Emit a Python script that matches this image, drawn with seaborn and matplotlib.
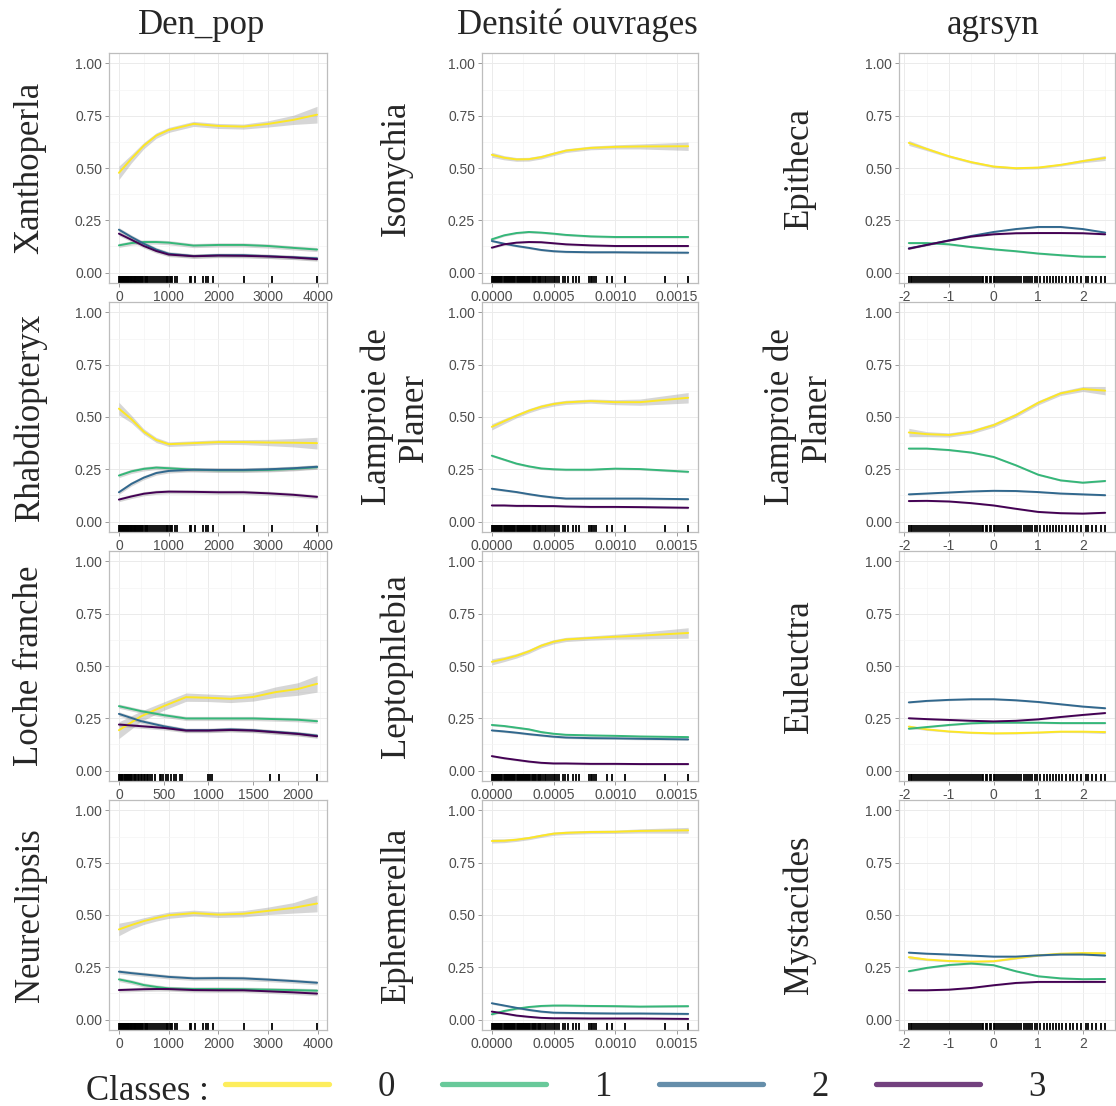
import numpy as np
import pandas as pd
import matplotlib
matplotlib.use("Agg")
import matplotlib.pyplot as plt
import matplotlib.ticker as mticker
from matplotlib.lines import Line2D
import seaborn as sns

# ---------------- data ----------------
classes = ["0", "1", "2", "3"]
palette = ["#FDE725", "#35B779", "#31688E", "#440154"]

col_titles = ["Den_pop", "Densité ouvrages", "agrsyn"]

den_pop_x = [0, 250, 500, 750, 1000, 1500, 2000, 2500, 3000, 3500, 3980]
loche_x = [0, 250, 500, 750, 1000, 1250, 1500, 1750, 2000, 2215]
ouvr_x = [0, 0.0001, 0.0002, 0.0003, 0.0004, 0.0005, 0.0006, 0.0008, 0.0010, 0.0012, 0.00159]
agr_x = [-1.9, -1.5, -1.0, -0.5, 0.0, 0.5, 1.0, 1.5, 2.0, 2.5]

# Den_pop column
xanthoperla = [[0.477, 0.544, 0.607, 0.655, 0.682, 0.711, 0.701, 0.698, 0.711, 0.730, 0.755],
               [0.130, 0.141, 0.146, 0.146, 0.143, 0.129, 0.132, 0.132, 0.127, 0.118, 0.110],
               [0.205, 0.170, 0.138, 0.110, 0.090, 0.079, 0.083, 0.083, 0.078, 0.073, 0.068],
               [0.186, 0.157, 0.127, 0.103, 0.086, 0.078, 0.081, 0.080, 0.077, 0.072, 0.064]]
xanthoperla_se = [0.032, 0.020, 0.015, 0.013, 0.012, 0.012, 0.012, 0.012, 0.015, 0.022, 0.040]

rhabdiopteryx = [[0.540, 0.490, 0.430, 0.390, 0.370, 0.375, 0.380, 0.380, 0.378, 0.377, 0.375],
                 [0.220, 0.240, 0.252, 0.258, 0.255, 0.248, 0.245, 0.245, 0.247, 0.252, 0.260],
                 [0.140, 0.180, 0.210, 0.232, 0.242, 0.248, 0.247, 0.247, 0.250, 0.255, 0.262],
                 [0.105, 0.120, 0.133, 0.140, 0.143, 0.142, 0.140, 0.140, 0.135, 0.128, 0.118]]
rhabdiopteryx_se = [0.030, 0.018, 0.013, 0.012, 0.011, 0.011, 0.011, 0.012, 0.015, 0.020, 0.028]

loche = [[0.193, 0.260, 0.308, 0.351, 0.348, 0.343, 0.352, 0.375, 0.390, 0.415],
         [0.308, 0.284, 0.265, 0.249, 0.249, 0.249, 0.249, 0.246, 0.243, 0.236],
         [0.271, 0.236, 0.212, 0.193, 0.193, 0.197, 0.193, 0.185, 0.177, 0.167],
         [0.220, 0.212, 0.204, 0.191, 0.191, 0.194, 0.191, 0.183, 0.175, 0.164]]
loche_se = [0.040, 0.025, 0.020, 0.020, 0.018, 0.018, 0.020, 0.025, 0.030, 0.040]

neureclipsis = [[0.431, 0.452, 0.471, 0.486, 0.499, 0.509, 0.502, 0.506, 0.520, 0.534, 0.555],
                [0.192, 0.180, 0.165, 0.156, 0.149, 0.146, 0.146, 0.145, 0.143, 0.141, 0.138],
                [0.229, 0.222, 0.216, 0.210, 0.204, 0.197, 0.198, 0.197, 0.191, 0.184, 0.176],
                [0.141, 0.143, 0.145, 0.146, 0.146, 0.141, 0.140, 0.140, 0.135, 0.130, 0.124]]
neureclipsis_se = [0.030, 0.020, 0.016, 0.015, 0.015, 0.014, 0.014, 0.015, 0.018, 0.025, 0.040]

# Densité ouvrages column
isonychia = [[0.563, 0.549, 0.541, 0.542, 0.552, 0.568, 0.583, 0.596, 0.601, 0.603, 0.604],
             [0.159, 0.178, 0.189, 0.194, 0.191, 0.186, 0.180, 0.173, 0.170, 0.170, 0.170],
             [0.151, 0.138, 0.127, 0.118, 0.108, 0.102, 0.099, 0.097, 0.097, 0.096, 0.095],
             [0.119, 0.135, 0.143, 0.146, 0.145, 0.140, 0.135, 0.130, 0.127, 0.127, 0.127]]
isonychia_se = [0.012, 0.010, 0.009, 0.009, 0.009, 0.009, 0.009, 0.009, 0.010, 0.012, 0.020]

lamproie_ouvr = [[0.453, 0.480, 0.506, 0.530, 0.549, 0.562, 0.570, 0.576, 0.571, 0.571, 0.592],
                 [0.315, 0.296, 0.277, 0.264, 0.254, 0.250, 0.248, 0.248, 0.253, 0.251, 0.238],
                 [0.157, 0.149, 0.141, 0.131, 0.122, 0.115, 0.110, 0.110, 0.110, 0.110, 0.107],
                 [0.077, 0.077, 0.075, 0.075, 0.074, 0.074, 0.072, 0.070, 0.070, 0.069, 0.066]]
lamproie_ouvr_se = [0.015, 0.012, 0.010, 0.010, 0.010, 0.010, 0.010, 0.010, 0.012, 0.015, 0.025]

leptophlebia = [[0.520, 0.533, 0.549, 0.570, 0.597, 0.616, 0.627, 0.634, 0.640, 0.645, 0.658],
                [0.218, 0.213, 0.205, 0.197, 0.184, 0.176, 0.171, 0.168, 0.166, 0.163, 0.160],
                [0.192, 0.187, 0.181, 0.174, 0.168, 0.162, 0.158, 0.155, 0.154, 0.152, 0.149],
                [0.069, 0.059, 0.051, 0.043, 0.037, 0.034, 0.034, 0.032, 0.032, 0.031, 0.031]]
leptophlebia_se = [0.015, 0.012, 0.011, 0.010, 0.010, 0.010, 0.010, 0.010, 0.012, 0.016, 0.025]

ephemerella = [[0.854, 0.855, 0.860, 0.868, 0.879, 0.889, 0.893, 0.897, 0.898, 0.902, 0.905],
               [0.025, 0.041, 0.052, 0.060, 0.065, 0.067, 0.067, 0.065, 0.064, 0.062, 0.064],
               [0.078, 0.067, 0.056, 0.046, 0.038, 0.033, 0.032, 0.030, 0.029, 0.029, 0.027],
               [0.038, 0.029, 0.019, 0.013, 0.008, 0.006, 0.006, 0.005, 0.005, 0.005, 0.003]]
ephemerella_se = [0.010, 0.009, 0.008, 0.008, 0.008, 0.008, 0.008, 0.008, 0.008, 0.010, 0.014]

# agrsyn column
epitheca = [[0.620, 0.591, 0.556, 0.528, 0.507, 0.499, 0.502, 0.515, 0.533, 0.548],
            [0.141, 0.141, 0.135, 0.122, 0.111, 0.102, 0.091, 0.083, 0.076, 0.075],
            [0.116, 0.132, 0.154, 0.175, 0.194, 0.208, 0.218, 0.218, 0.208, 0.191],
            [0.114, 0.132, 0.153, 0.172, 0.183, 0.188, 0.189, 0.189, 0.188, 0.183]]
epitheca_se = [0.012, 0.008, 0.006, 0.006, 0.006, 0.006, 0.006, 0.006, 0.008, 0.012]

lamproie_agr = [[0.426, 0.418, 0.414, 0.429, 0.461, 0.509, 0.568, 0.613, 0.634, 0.626],
                [0.349, 0.349, 0.342, 0.330, 0.309, 0.269, 0.224, 0.197, 0.186, 0.194],
                [0.130, 0.134, 0.139, 0.144, 0.147, 0.146, 0.141, 0.134, 0.130, 0.126],
                [0.098, 0.099, 0.096, 0.088, 0.077, 0.061, 0.046, 0.040, 0.038, 0.042]]
lamproie_agr_se = [0.020, 0.012, 0.010, 0.010, 0.010, 0.010, 0.010, 0.010, 0.012, 0.020]

euleuctra = [[0.210, 0.197, 0.187, 0.181, 0.178, 0.179, 0.182, 0.186, 0.186, 0.184],
             [0.200, 0.208, 0.218, 0.226, 0.229, 0.229, 0.229, 0.227, 0.227, 0.227],
             [0.326, 0.333, 0.338, 0.341, 0.341, 0.336, 0.328, 0.317, 0.306, 0.298],
             [0.250, 0.246, 0.242, 0.238, 0.235, 0.238, 0.245, 0.256, 0.266, 0.275]]
euleuctra_se = [0.007, 0.005, 0.004, 0.004, 0.004, 0.004, 0.004, 0.004, 0.005, 0.007]

mystacides = [[0.298, 0.287, 0.280, 0.277, 0.279, 0.293, 0.307, 0.315, 0.318, 0.317],
              [0.231, 0.247, 0.261, 0.268, 0.260, 0.231, 0.207, 0.197, 0.193, 0.194],
              [0.320, 0.315, 0.311, 0.306, 0.301, 0.301, 0.307, 0.311, 0.311, 0.306],
              [0.140, 0.140, 0.143, 0.151, 0.164, 0.175, 0.180, 0.180, 0.180, 0.180]]
mystacides_se = [0.008, 0.005, 0.004, 0.004, 0.004, 0.004, 0.004, 0.004, 0.005, 0.008]

# half width of the band for classes 1-3, per column
other_se = [0.010, 0.005, 0.004]

# observed covariate values (rug)
den_pop_rug = [0, 12, 25, 35, 48, 60, 72, 85, 97, 110, 122, 135, 150, 163, 177, 190, 205, 220,
               235, 250, 265, 282, 298, 315, 332, 350, 368, 386, 405, 425, 445, 468, 490, 515,
               540, 560, 584, 631, 664, 705, 752, 792, 819, 859, 899, 940, 966, 993, 1020, 1040,
               1074, 1121, 1168, 1423, 1456, 1537, 1691, 1745, 1792, 1893, 2503, 3081, 3980]
loche_rug = [0, 10, 20, 30, 40, 52, 63, 75, 87, 100, 112, 125, 138, 150, 165, 180, 195, 210,
             226, 242, 258, 275, 292, 310, 325, 343, 373, 399, 455, 466, 493, 522, 548, 578,
             612, 634, 687, 701, 996, 1022, 1045, 1694, 1784, 2215]
ouvr_rug_e4 = [0, 0.08, 0.17, 0.25, 0.34, 0.42, 0.5, 0.6, 0.68, 0.77, 0.85, 0.95, 1.03, 1.12,
               1.2, 1.3, 1.38, 1.47, 1.55, 1.65, 1.73, 1.82, 1.9, 2.0, 2.08, 2.17, 2.25, 2.35,
               2.43, 2.52, 2.6, 2.7, 2.78, 2.87, 2.95, 3.05, 3.13, 3.22, 3.3, 3.4, 3.48, 3.6,
               3.7, 3.8, 3.92, 4.0, 4.15, 4.3, 4.4, 4.55, 4.7, 4.85, 5.0, 5.15, 5.3, 5.45, 5.73,
               5.91, 6.13, 6.61, 6.8, 7.07, 7.88, 8.01, 8.15, 8.28, 8.41, 9.35, 9.76, 10.78,
               14.06, 15.9]
agr_rug = [-1.90, -1.86, -1.82, -1.78, -1.73, -1.69, -1.64, -1.60, -1.55, -1.51, -1.47, -1.42,
           -1.38, -1.33, -1.29, -1.24, -1.20, -1.16, -1.11, -1.07, -1.02, -0.98, -0.93, -0.89,
           -0.85, -0.80, -0.76, -0.71, -0.67, -0.62, -0.58, -0.54, -0.49, -0.45, -0.40, -0.36,
           -0.31, -0.27, -0.23, -0.18, -0.14, -0.09, -0.05, 0.00, 0.04, 0.08, 0.13, 0.17, 0.22,
           0.26, 0.31, 0.35, 0.40, 0.44, 0.49, 0.53, 0.58, 0.62, 0.67, 0.72, 0.77, 0.82, 0.87,
           0.93, 0.98, 1.05, 1.12, 1.20, 1.27, 1.33, 1.39, 1.46, 1.54, 1.63, 1.72, 1.78, 1.87,
           1.95, 2.06, 2.11, 2.21, 2.30, 2.40, 2.50]
ouvr_rug = [v * 1e-4 for v in ouvr_rug_e4]

# (row, col, label, x, curves, band of class 0, rug)
panels = [
    (0, 0, "Xanthoperla", den_pop_x, xanthoperla, xanthoperla_se, den_pop_rug),
    (1, 0, "Rhabdiopteryx", den_pop_x, rhabdiopteryx, rhabdiopteryx_se, den_pop_rug),
    (2, 0, "Loche franche", loche_x, loche, loche_se, loche_rug),
    (3, 0, "Neureclipsis", den_pop_x, neureclipsis, neureclipsis_se, den_pop_rug),
    (0, 1, "Isonychia", ouvr_x, isonychia, isonychia_se, ouvr_rug),
    (1, 1, "Lamproie de\nPlaner", ouvr_x, lamproie_ouvr, lamproie_ouvr_se, ouvr_rug),
    (2, 1, "Leptophlebia", ouvr_x, leptophlebia, leptophlebia_se, ouvr_rug),
    (3, 1, "Ephemerella", ouvr_x, ephemerella, ephemerella_se, ouvr_rug),
    (0, 2, "Epitheca", agr_x, epitheca, epitheca_se, agr_rug),
    (1, 2, "Lamproie de\nPlaner", agr_x, lamproie_agr, lamproie_agr_se, agr_rug),
    (2, 2, "Euleuctra", agr_x, euleuctra, euleuctra_se, agr_rug),
    (3, 2, "Mystacides", agr_x, mystacides, mystacides_se, agr_rug),
]

# ---------------- figure ----------------
sns.set_theme(style="white")
plt.rcParams["font.family"] = ["Liberation Sans", "DejaVu Sans"]
plt.rcParams["axes.unicode_minus"] = False
SERIF = ["Liberation Serif", "DejaVu Serif"]

W, H = 1116, 1106
fig = plt.figure(figsize=(W / 100, H / 100), dpi=100)

col_left = [109, 482, 899]
col_width = [218, 216, 216]
row_top = [53, 302, 551, 800]
row_h = 230
label_x = [30, 396, 799]
title_x = [202, 577, 993]

for r, c, label, x, curves, se0, rug in panels:
    ax = fig.add_axes([col_left[c] / W, 1 - (row_top[r] + row_h) / H,
                       col_width[c] / W, row_h / H])
    n = len(x)
    df = pd.DataFrame({
        "x": np.tile(x, 4),
        "prob": np.concatenate(curves),
        "classe": np.repeat(classes, n),
    })
    for k in range(4):
        y = np.array(curves[k])
        half = np.array(se0) if k == 0 else other_se[c]
        ax.fill_between(x, y - half, y + half, color="#9A9A9A", alpha=0.4, lw=0, zorder=2)
    sns.lineplot(data=df, x="x", y="prob", hue="classe", hue_order=classes,
                 palette=palette, linewidth=1.4, legend=False, ax=ax, zorder=3)
    sns.rugplot(x=rug, ax=ax, height=0.03, color="black", linewidth=1.3,
                expand_margins=False)

    lo, hi = min(x), max(x)
    pad = 0.05 * (hi - lo)
    ax.set_xlim(lo - pad, hi + pad)
    ax.set_ylim(-0.05, 1.05)
    ax.set_xlabel("")
    ax.set_ylabel("")

    ax.yaxis.set_major_locator(mticker.MultipleLocator(0.25))
    ax.yaxis.set_minor_locator(mticker.MultipleLocator(0.125))
    ax.yaxis.set_major_formatter(mticker.FormatStrFormatter("%.2f"))
    if c == 0:
        step = 500 if r == 2 else 1000
        ax.xaxis.set_major_locator(mticker.MultipleLocator(step))
        ax.xaxis.set_minor_locator(mticker.MultipleLocator(step / 2))
        ax.xaxis.set_major_formatter(mticker.FormatStrFormatter("%d"))
    elif c == 1:
        ax.xaxis.set_major_locator(mticker.MultipleLocator(0.0005))
        ax.xaxis.set_minor_locator(mticker.MultipleLocator(0.00025))
        ax.xaxis.set_major_formatter(mticker.FormatStrFormatter("%.4f"))
    else:
        ax.xaxis.set_major_locator(mticker.MultipleLocator(1))
        ax.xaxis.set_minor_locator(mticker.MultipleLocator(0.5))
        ax.xaxis.set_major_formatter(mticker.FormatStrFormatter("%d"))

    ax.grid(which="major", color="#EBEBEB", linewidth=0.7)
    ax.grid(which="minor", color="#F4F4F4", linewidth=0.5)
    ax.set_axisbelow(True)
    for s in ax.spines.values():
        s.set_color("#BDBDBD")
        s.set_linewidth(0.9)
    ax.tick_params(which="major", length=3, width=0.6, color="#8A8A8A",
                   labelsize=10, labelcolor="#4D4D4D", pad=2, left=True, bottom=True)
    ax.tick_params(which="minor", length=0)

    fig.text(label_x[c] / W, 1 - (row_top[r] + row_h / 2) / H, label, rotation=90,
             ha="center", va="center", family=SERIF, fontsize=25, linespacing=1.15)

for c, t in enumerate(col_titles):
    fig.text(title_x[c] / W, 1 - 34 / H, t, ha="center", va="baseline",
             family=SERIF, fontsize=25)

# legend at the bottom
fig.text(86 / W, 1 - 1100 / H, "Classes :", ha="left", va="baseline",
         family=SERIF, fontsize=25)
handles = [Line2D([], [], color=col, lw=3.8, alpha=0.75) for col in palette]
fig.legend(handles, classes, ncol=4, loc="center left",
           bbox_to_anchor=(225 / W, 1 - 1088 / H), frameon=False,
           prop={"family": SERIF, "size": 25}, handlelength=3.0,
           handletextpad=1.4, columnspacing=1.35, borderpad=0, borderaxespad=0)

fig.savefig("out.png", dpi=100)
